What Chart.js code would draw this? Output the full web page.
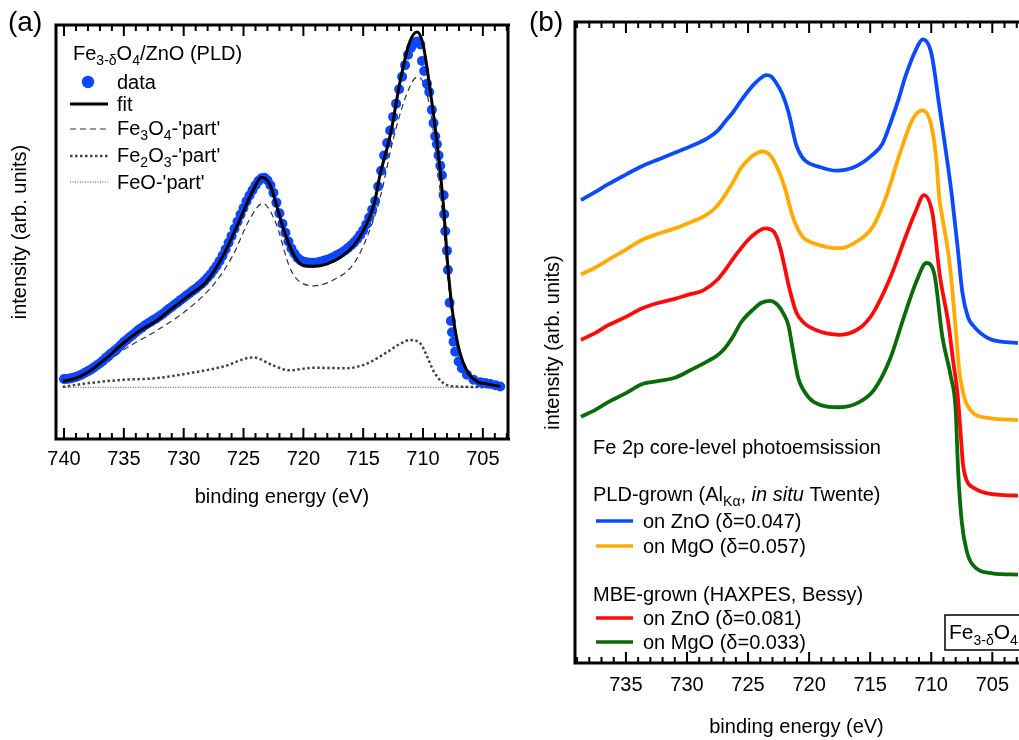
<!DOCTYPE html>
<html>
<head>
<meta charset="utf-8">
<script src="https://cdn.jsdelivr.net/npm/chart.js@4.4.1/dist/chart.umd.min.js"></script>
<style>
  body { margin: 0; background: #fff; }
  #wrap { position: relative; width: 1019px; height: 740px; overflow: hidden; }
  canvas { position: absolute; top: 0; }
  #chartA { left: 0; }
  #chartB { left: 500px; }
</style>
</head>
<body>
<div id="wrap">
  <canvas id="chartA" width="520" height="520"></canvas>
  <canvas id="chartB" width="519" height="740"></canvas>
</div>
<script>
const FONT = '"Liberation Sans", Arial, sans-serif';
Chart.defaults.font.family = FONT;
Chart.defaults.font.size = 20;
Chart.defaults.color = '#000';

// ---- panel (a): Fe3-dO4/ZnO fit ----
const ticksA = [740, 735, 730, 725, 720, 715, 710, 705];

const dataE = [740.0, 739.75, 739.5, 739.25, 739.0, 738.75, 738.5, 738.25, 738.0, 737.75,
  737.5, 737.25, 737.0, 736.75, 736.5, 736.25, 736.0, 735.75, 735.5, 735.25,
  735.0, 734.75, 734.5, 734.25, 734.0, 733.75, 733.5, 733.25, 733.0, 732.75,
  732.5, 732.25, 732.0, 731.75, 731.5, 731.25, 731.0, 730.75, 730.5, 730.25,
  730.0, 729.75, 729.5, 729.25, 729.0, 728.75, 728.5, 728.25, 728.0, 727.75,
  727.5, 727.25, 727.0, 726.75, 726.5, 726.25, 726.0, 725.75, 725.5, 725.25,
  725.0, 724.75, 724.5, 724.25, 724.0, 723.75, 723.5, 723.25, 723.0, 722.75,
  722.5, 722.25, 722.0, 721.75, 721.5, 721.25, 721.0, 720.75, 720.5, 720.25,
  720.0, 719.75, 719.5, 719.25, 719.0, 718.75, 718.5, 718.25, 718.0, 717.75,
  717.5, 717.25, 717.0, 716.75, 716.5, 716.25, 716.0, 715.75, 715.5, 715.25,
  715.0, 714.75, 714.5, 714.25, 714.0, 713.75, 713.5, 713.25, 713.0, 712.75,
  712.5, 712.25, 712.0, 711.75, 711.5, 711.25, 711.0, 710.75, 710.5, 710.23,
  710.09, 709.9, 709.67, 709.48, 709.26, 709.12, 708.98, 708.84, 708.7, 708.56,
  708.42, 708.28, 708.23, 708.14, 708.0, 707.92, 707.78, 707.67, 707.58, 707.45,
  707.31, 707.03, 706.75, 706.33, 705.78, 705.22, 704.8, 704.38, 703.95, 703.55];
const dataI = [14.5, 14.5, 14.6, 14.8, 15.0, 15.3, 15.6, 16.0, 16.4, 16.8,
  17.3, 17.8, 18.3, 18.9, 19.6, 20.2, 20.8, 21.4, 22.0, 22.7,
  23.4, 24.0, 24.6, 25.2, 25.8, 26.4, 26.9, 27.4, 27.9, 28.3,
  28.8, 29.2, 29.7, 30.2, 30.8, 31.4, 31.9, 32.5, 33.0, 33.6,
  34.1, 34.7, 35.2, 35.8, 36.3, 36.9, 37.5, 38.2, 39.0, 39.8,
  40.8, 41.8, 43.0, 44.3, 45.8, 47.4, 49.0, 50.8, 52.5, 54.2,
  55.8, 57.4, 58.8, 60.1, 61.3, 62.3, 63.0, 63.1, 62.5, 61.3,
  59.5, 57.1, 54.5, 52.0, 49.8, 47.7, 46.0, 44.8, 43.8, 43.2,
  42.8, 42.7, 42.6, 42.6, 42.6, 42.7, 42.9, 43.1, 43.3, 43.6,
  43.9, 44.3, 44.7, 45.1, 45.6, 46.2, 46.8, 47.5, 48.3, 49.3,
  50.4, 51.8, 53.5, 55.4, 57.5, 61.0, 64.8, 68.5, 71.5, 74.5,
  77.8, 81.0, 84.5, 87.5, 90.3, 92.8, 94.5, 95.8, 96.0, 95.3,
  91.3, 88.9, 85.8, 83.8, 79.5, 76.3, 73.1, 71.2, 68.5, 66.0,
  63.7, 58.9, 54.3, 50.2, 45.5, 40.8, 32.9, 28.5, 25.8, 23.5,
  21.1, 18.7, 17.1, 15.5, 14.3, 13.7, 13.5, 13.3, 13.0, 12.7];

const fitE = [740.1, 739.0, 737.9, 736.5, 735.1, 733.7, 732.3, 730.9, 729.5, 728.1,
  726.7, 725.3, 724.2, 723.5, 722.8, 722.3, 721.8, 721.2, 720.6, 720.0,
  719.15, 718.0, 716.9, 715.8, 715.0, 714.1, 713.6, 712.7, 711.9, 711.1,
  710.5, 710.0, 709.4, 708.8, 708.3, 707.9, 707.45, 707.0, 706.3, 705.5,
  704.65, 703.55];
const fitI = [13.9, 14.7, 16.3, 19.4, 23.0, 26.1, 28.5, 31.7, 34.8, 38.0,
  44.3, 53.0, 60.1, 63.2, 61.5, 57.0, 52.0, 47.0, 43.5, 41.9,
  41.7, 42.3, 43.9, 46.7, 50.2, 56.6, 63.7, 73.9, 86.6, 96.0,
  98.3, 95.3, 84.2, 70.8, 56.6, 40.8, 28.9, 21.8, 16.3, 13.9,
  13.3, 12.7];

const fe3E = [740.1, 737.9, 736.5, 735.1, 732.3, 729.5, 727.3, 725.9, 724.5, 723.4,
  722.3, 721.2, 720.6, 719.15, 717.5, 715.8, 714.7, 713.6, 712.5, 711.35,
  710.5, 710.0, 709.4, 708.8, 708.3, 707.9, 707.45, 707.0, 706.3, 705.5,
  704.65, 703.55];
const fe3I = [13.5, 15.5, 18.2, 21.4, 26.1, 31.7, 38.0, 44.3, 53.0, 56.9,
  52.2, 41.9, 38.8, 37.0, 38.4, 42.3, 48.6, 58.1, 72.3, 83.4,
  87.4, 86.2, 79.5, 66.0, 52.0, 38.0, 27.0, 20.0, 15.0, 13.2,
  12.8, 12.6];

const fe2E = [740.1, 737.9, 735.1, 732.3, 729.5, 726.7, 724.2, 722.55, 721.2, 719.15,
  716.4, 714.7, 713.0, 711.9, 711.1, 710.2, 709.7, 709.1, 708.3, 707.2, 703.55];
const fe2I = [12.6, 13.5, 14.3, 14.7, 15.9, 17.5, 19.7, 17.8, 16.6, 17.2,
  17.1, 18.2, 21.0, 23.0, 23.9, 23.0, 20.2, 16.3, 13.5, 12.7, 12.5];

const feoE = [740.1, 703.55];
const feoI = [12.5, 12.5];

// ---- panel (b): four films ----
const ticksB = [735, 730, 725, 720, 715, 710, 705];

const blueE = [738.68, 737.5, 736.45, 735.0, 733.7, 732.3, 731.0, 729.6, 728.3, 727.5,
  726.9, 726.2, 725.55, 725.0, 724.5, 724.0, 723.5, 723.1, 722.8, 722.2,
  721.7, 721.05, 720.6, 720.2, 719.0, 717.8, 716.15, 714.8, 714.0, 713.4,
  712.7, 712.1, 711.25, 710.7, 710.0, 709.35, 708.65, 708.3, 707.85, 707.45,
  707.0, 706.6, 705.25, 702.9];
const blueI = [72.2, 73.5, 74.7, 76.2, 77.5, 78.6, 79.6, 80.7, 81.9, 83.0,
  84.4, 86.0, 87.8, 89.2, 90.3, 91.2, 91.7, 91.5, 90.8, 88.8,
  86.0, 80.8, 79.0, 78.2, 77.3, 76.8, 77.5, 79.3, 81.0, 83.9,
  87.8, 91.6, 95.7, 97.3, 95.2, 87.0, 77.8, 72.7, 65.0, 57.8,
  54.0, 52.7, 50.6, 49.9];

const orangeE = [738.68, 737.5, 736.45, 735.0, 733.7, 732.3, 731.0, 729.8, 728.7, 727.9,
  727.2, 726.3, 725.55, 725.0, 724.5, 723.8, 723.1, 722.5, 722.0, 721.4,
  720.9, 720.5, 719.8, 719.15, 718.3, 717.5, 715.9, 714.8, 713.7, 712.6,
  711.5, 710.7, 710.0, 709.6, 709.35, 709.1, 708.5, 708.0, 707.7, 707.45,
  707.1, 706.5, 705.25, 702.9];
const orangeI = [60.6, 61.7, 62.9, 64.5, 66.0, 67.0, 67.8, 68.7, 69.6, 70.6,
  72.1, 74.8, 77.3, 78.5, 79.3, 79.8, 79.0, 76.8, 74.2, 70.0,
  67.6, 66.4, 65.6, 65.2, 64.8, 64.7, 66.0, 68.0, 72.7, 79.3,
  84.9, 86.2, 83.9, 78.8, 72.7, 69.6, 62.4, 52.2, 45.5, 42.7,
  40.4, 38.9, 38.2, 37.9];

const redE = [738.68, 737.5, 736.45, 735.0, 733.7, 732.3, 731.0, 729.8, 728.7, 727.45,
  726.8, 726.1, 725.0, 724.2, 723.6, 722.9, 722.4, 721.6, 721.05, 720.5,
  719.4, 717.5, 715.9, 714.8, 713.4, 712.1, 711.25, 710.6, 709.9, 709.3,
  708.6, 708.2, 707.85, 707.6, 707.4, 707.1, 706.5, 705.5, 704.0, 702.9];
const redI = [50.4, 51.5, 52.7, 54.0, 55.3, 56.2, 56.8, 57.5, 58.1, 59.9,
  61.5, 63.4, 66.0, 67.3, 67.8, 67.3, 65.0, 58.3, 54.7, 53.2,
  51.9, 51.2, 52.2, 54.5, 59.9, 66.5, 70.6, 73.0, 70.1, 60.5,
  53.0, 47.0, 42.0, 36.0, 31.0, 28.5, 27.3, 26.5, 26.2, 26.1];

const greenE = [738.68, 737.5, 736.45, 735.0, 733.7, 732.3, 731.0, 729.6, 728.3, 727.5,
  726.9, 726.2, 725.55, 724.5, 723.9, 723.2, 722.55, 722.1, 721.7, 721.3,
  720.9, 720.5, 719.6, 717.5, 715.9, 714.65, 713.4, 712.2, 711.2, 710.4,
  709.75, 709.1, 708.4, 708.0, 707.8, 707.5, 707.1, 706.6, 705.0, 702.9];
const greenI = [38.4, 39.5, 40.7, 42.1, 43.5, 44.0, 44.5, 45.8, 47.1, 48.0,
  49.1, 51.0, 53.2, 55.3, 56.2, 56.5, 55.8, 54.5, 52.7, 48.5,
  44.5, 42.7, 40.7, 39.9, 40.7, 42.7, 47.3, 54.2, 59.6, 62.4,
  60.7, 51.0, 44.7, 39.5, 30.0, 22.0, 17.5, 15.3, 14.0, 13.8];

const seriesB = [
  { label: 'on ZnO (\u03b4=0.047)', color: '#0a4bff', e: blueE, i: blueI },
  { label: 'on MgO (\u03b4=0.057)', color: '#ffab00', e: orangeE, i: orangeI },
  { label: 'on ZnO (\u03b4=0.081)', color: '#ff0a0a', e: redE, i: redI },
  { label: 'on MgO (\u03b4=0.033)', color: '#0b6b0b', e: greenE, i: greenI }
];

const pts = (e, i) => e.map((x, k) => ({ x: x, y: i[k] }));

// text with subscripts / italics, parts = [text, kind]
function rich(ctx, parts, x, y, size) {
  let cx = x;
  ctx.textBaseline = 'alphabetic';
  ctx.textAlign = 'left';
  ctx.fillStyle = '#000';
  parts.forEach(([txt, kind]) => {
    const sz = kind === 'sub' ? Math.round(size * 0.68) : size;
    ctx.font = (kind === 'i' ? 'italic ' : '') + sz + 'px ' + FONT;
    ctx.fillText(txt, cx, kind === 'sub' ? y + size * 0.27 : y);
    cx += ctx.measureText(txt).width;
  });
  return cx;
}

// border and inward ticks on top/bottom
const frame = {
  id: 'frame',
  afterDraw(chart, args, opts) {
    const { ctx, chartArea: a, scales: { x } } = chart;
    ctx.save();
    ctx.strokeStyle = '#000';
    ctx.lineWidth = 2;
    const lo = Math.ceil(Math.min(x.min, x.max)), hi = Math.floor(Math.max(x.min, x.max));
    for (let v = lo; v <= hi; v++) {
      const px = x.getPixelForValue(v);
      const len = v % 5 === 0 ? 11 : 6;
      ctx.beginPath();
      ctx.moveTo(px, a.top); ctx.lineTo(px, a.top + len);
      ctx.moveTo(px, a.bottom); ctx.lineTo(px, a.bottom - len);
      ctx.stroke();
    }
    ctx.lineWidth = 3;
    ctx.beginPath();
    ctx.moveTo(a.left, a.top); ctx.lineTo(a.right + 2, a.top);
    ctx.moveTo(a.left, a.bottom); ctx.lineTo(a.right + 2, a.bottom);
    ctx.moveTo(a.left, a.top - 1.5); ctx.lineTo(a.left, a.bottom + 1.5);
    if (opts.right) { ctx.moveTo(a.right, a.top - 1.5); ctx.lineTo(a.right, a.bottom + 1.5); }
    ctx.stroke();
    ctx.restore();
  }
};

const legendA = {
  id: 'legendA',
  afterDraw(chart) {
    const ctx = chart.ctx;
    ctx.save();
    ctx.font = '28px ' + FONT;
    ctx.fillStyle = '#000';
    ctx.textBaseline = 'middle';
    ctx.fillText('(a)', 8, 23);
    rich(ctx, [['Fe', 'n'], ['3-\u03b4', 'sub'], ['O', 'n'], ['4', 'sub'], ['/ZnO (PLD)', 'n']], 73, 60, 20);
    // data marker
    ctx.fillStyle = '#0d47ff';
    ctx.beginPath(); ctx.arc(88, 82, 6.2, 0, Math.PI * 2); ctx.fill();
    rich(ctx, [['data', 'n']], 117, 89, 20);
    const sample = (y, w, dash, col) => {
      ctx.strokeStyle = col; ctx.lineWidth = w; ctx.setLineDash(dash);
      ctx.beginPath(); ctx.moveTo(70, y); ctx.lineTo(108, y); ctx.stroke();
    };
    sample(104, 3, [], '#000');
    rich(ctx, [['fit', 'n']], 117, 111, 20);
    sample(129, 1.2, [6, 4], '#333');
    rich(ctx, [['Fe', 'n'], ['3', 'sub'], ['O', 'n'], ['4', 'sub'], ["-'part'", 'n']], 117, 135, 20);
    sample(156, 2.5, [2.5, 2.5], '#444');
    rich(ctx, [['Fe', 'n'], ['2', 'sub'], ['O', 'n'], ['3', 'sub'], ["-'part'", 'n']], 117, 162, 20);
    sample(182, 1, [1, 1.5], '#444');
    rich(ctx, [["FeO-'part'", 'n']], 117, 189, 20);
    ctx.restore();
  }
};

const OFFB = 500; // page x of canvas B
const legendB = {
  id: 'legendB',
  afterDraw(chart) {
    const ctx = chart.ctx;
    ctx.save();
    ctx.font = '28px ' + FONT;
    ctx.fillStyle = '#000';
    ctx.textBaseline = 'middle';
    ctx.fillText('(b)', 529 - OFFB, 23);
    rich(ctx, [['Fe 2p core-level photoemsission', 'n']], 593 - OFFB, 454, 20);
    rich(ctx, [['PLD-grown (Al', 'n'], ['K\u03b1', 'sub'], [', ', 'n'], ['in situ', 'i'], [' Twente)', 'n']], 593 - OFFB, 501, 20);
    rich(ctx, [['MBE-grown (HAXPES, Bessy)', 'n']], 593 - OFFB, 601, 20);
    const rows = [521, 546, 618, 642];
    seriesB.forEach((s, k) => {
      ctx.strokeStyle = s.color; ctx.lineWidth = 3.5;
      ctx.beginPath(); ctx.moveTo(596 - OFFB, rows[k]); ctx.lineTo(633 - OFFB, rows[k]); ctx.stroke();
      rich(ctx, [[s.label, 'n']], 643 - OFFB, rows[k] + 7, 20);
    });
    // Fe3-dO4 box
    ctx.strokeStyle = '#000'; ctx.lineWidth = 1.5;
    ctx.strokeRect(945 - OFFB, 615, 100, 35);
    rich(ctx, [['Fe', 'n'], ['3-\u03b4', 'sub'], ['O', 'n'], ['4', 'sub']], 949 - OFFB, 639, 21);
    ctx.restore();
  }
};

const xAxis = (min, max, ticks, pad, titlePad) => ({
  type: 'linear', min: min, max: max, reverse: true,
  grid: { display: false, drawTicks: false },
  border: { display: false },
  afterBuildTicks: s => { s.ticks = ticks.map(v => ({ value: v })); },
  ticks: { padding: pad, autoSkip: false, maxRotation: 0, color: '#000', callback: v => String(v) },
  title: { display: true, text: 'binding energy (eV)', padding: titlePad, color: '#000' }
});
const yAxis = (titlePad) => ({
  min: 0, max: 100,
  grid: { display: false, drawTicks: false },
  border: { display: false },
  ticks: { display: false },
  title: { display: true, text: 'intensity (arb. units)', padding: titlePad, color: '#000' }
});

new Chart(document.getElementById('chartA'), {
  type: 'line',
  data: {
    datasets: [
      { label: 'fit', data: pts(fitE, fitI), borderColor: '#000', borderWidth: 3, pointRadius: 0, cubicInterpolationMode: 'monotone' },
      { label: 'data', data: pts(dataE, dataI), showLine: false, pointRadius: 5, pointBackgroundColor: '#0d47ff', pointBorderWidth: 0, borderColor: '#0d47ff' },
      { label: "Fe3O4-'part'", data: pts(fe3E, fe3I), borderColor: '#333', borderWidth: 1.2, borderDash: [6, 4], pointRadius: 0, cubicInterpolationMode: 'monotone' },
      { label: "Fe2O3-'part'", data: pts(fe2E, fe2I), borderColor: '#444', borderWidth: 2.5, borderDash: [2.5, 2.5], pointRadius: 0, cubicInterpolationMode: 'monotone' },
      { label: "FeO-'part'", data: pts(feoE, feoI), borderColor: '#444', borderWidth: 1, borderDash: [1, 1.5], pointRadius: 0 }
    ]
  },
  options: {
    responsive: false,
    animation: false,
    devicePixelRatio: 1,
    layout: { padding: { left: 4, top: 25, right: 12, bottom: 7 } },
    plugins: { legend: { display: false }, tooltip: { enabled: false }, frame: { right: true } },
    scales: {
      x: xAxis(702.9, 740.67, ticksA, 8, { top: 6, bottom: 4 }),
      y: yAxis({ top: 4, bottom: 24 })
    }
  },
  plugins: [frame, legendA]
});

new Chart(document.getElementById('chartB'), {
  type: 'line',
  data: {
    datasets: seriesB.map(s => ({
      label: s.label, data: pts(s.e, s.i), borderColor: s.color, borderWidth: 3.8,
      pointRadius: 0, cubicInterpolationMode: 'monotone'
    }))
  },
  options: {
    responsive: false,
    animation: false,
    devicePixelRatio: 1,
    layout: { padding: { left: 37, top: 22, right: 0, bottom: 0 } },
    plugins: { legend: { display: false }, tooltip: { enabled: false }, frame: { right: false } },
    scales: {
      x: xAxis(702.9, 739.17, ticksB, 10, { top: 8, bottom: 1 }),
      y: yAxis({ top: 4, bottom: 10 })
    }
  },
  plugins: [frame, legendB]
});
</script>
</body>
</html>
